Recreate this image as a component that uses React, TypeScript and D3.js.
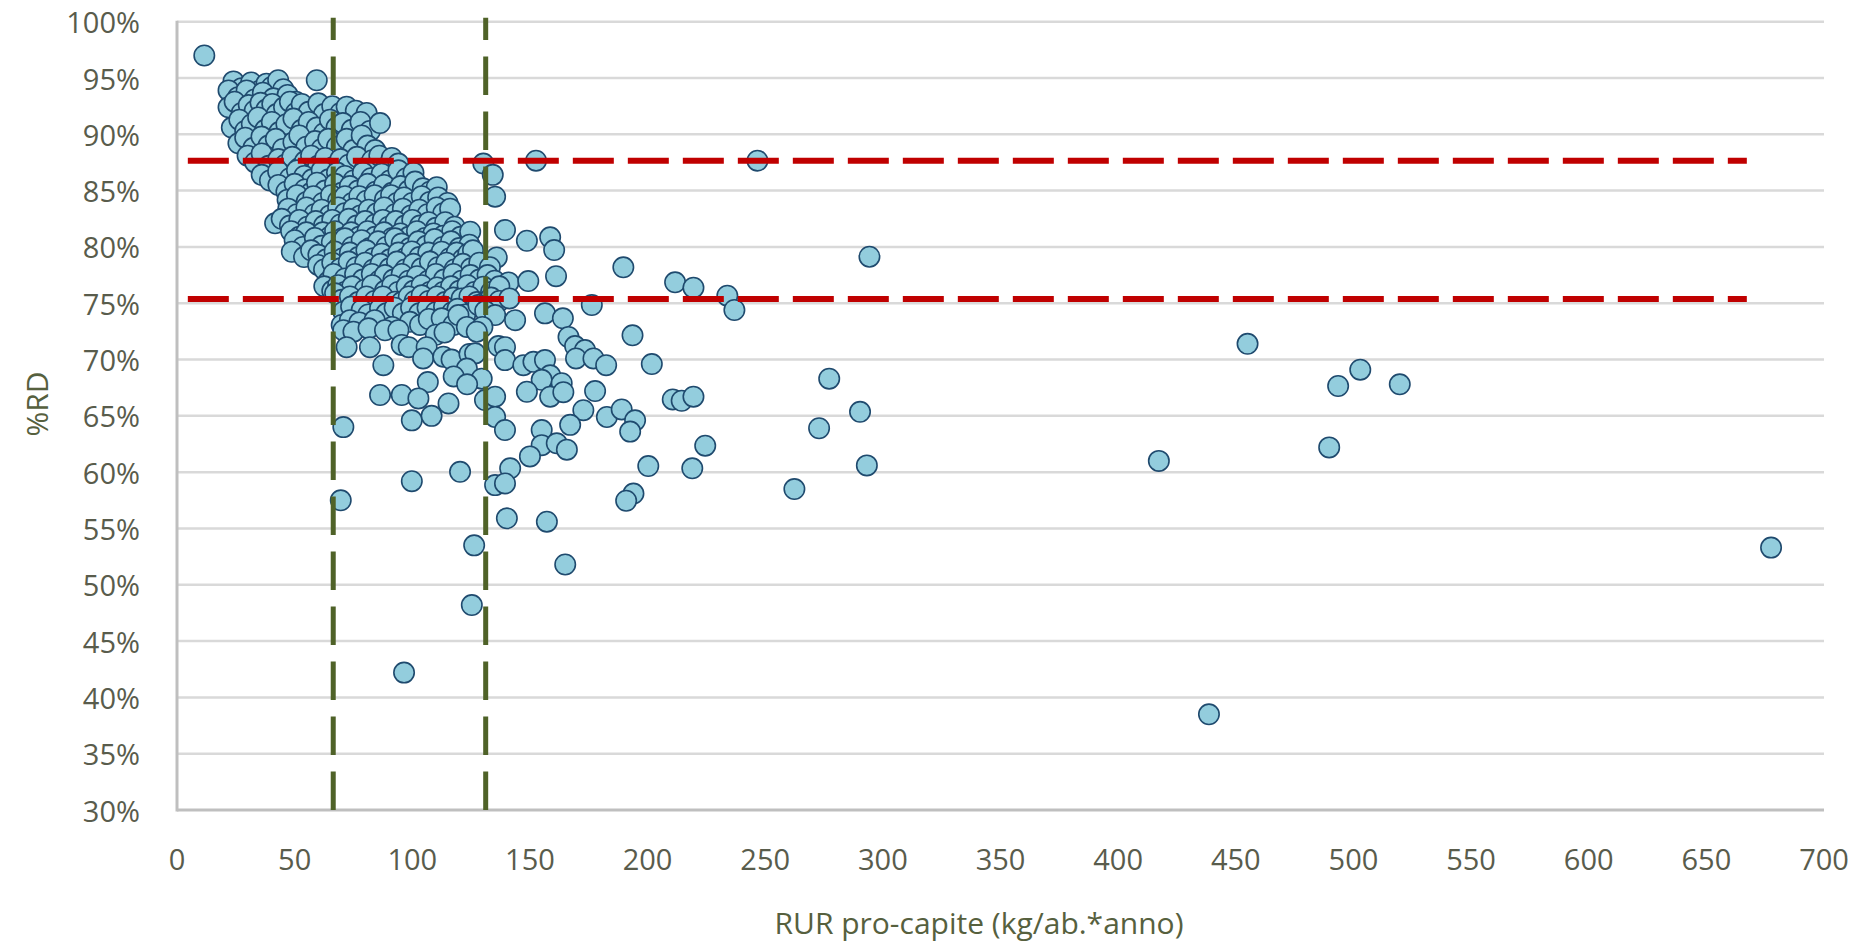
import React from 'react';
import * as d3 from 'd3';

// RUR pro-capite (kg/ab.*anno) vs %RD
const clusterUpper: [number, number][] = [
  [11.6, 97.0],
  [24, 94.7], [27.5, 94.1], [31.5, 94.6], [35.3, 93.9], [38, 94.5], [40.3, 94.2], [43, 94.8], [45.2, 94.0], [59.4, 94.8],
  [21.9, 93.9], [26, 93.3], [29.6, 93.9], [33, 93.1], [36.5, 93.7], [41, 93.2], [47, 93.5], [50.5, 92.9],
  [21.9, 92.4], [24.5, 92.9], [27.5, 91.9], [30.5, 92.6], [33, 92.1], [35.5, 92.8], [38, 92.2], [40.5, 92.7], [42.4, 91.8], [45.5, 92.4], [48, 92.9], [50.5, 91.9], [53, 92.7], [56, 92.0], [60.1, 92.75], [62.5, 91.8], [66, 92.5], [69.5, 91.9], [72.1, 92.45], [76, 92.1], [80.6, 91.9],
  [23.3, 90.6], [26.5, 91.3], [29, 90.3], [31.8, 90.9], [34.5, 91.5], [37.5, 90.4], [40.3, 91.1], [43.5, 90.2], [46.5, 90.9], [49.5, 91.4], [53, 90.4], [56, 91.1], [59.4, 90.6], [62.5, 90.1], [65, 91.3], [67.8, 90.6], [70.5, 91.0], [74.3, 90.4], [78, 91.1], [82, 90.3], [86.3, 91.0],
  [26.1, 89.2], [29, 89.7], [32.5, 88.8], [35.9, 89.8], [38.9, 89.0], [42, 89.6], [45, 88.7], [49.5, 89.3], [52, 89.9], [55, 88.9], [58.7, 89.4], [61.5, 88.7], [64.3, 89.6], [68, 88.9], [72.1, 89.6], [75, 88.6], [78.5, 89.9], [81, 89.0], [84.2, 88.6],
  [30, 88.1], [33.2, 87.5], [36, 88.3], [39, 87.2], [43.1, 87.8], [46, 87.3], [49, 88.0], [52, 87.0], [54.4, 87.6], [57, 88.1], [60, 87.2], [63, 87.9], [66.5, 87.1], [69.5, 87.8], [73, 87.3], [76.5, 88.0], [79.9, 87.0], [83, 87.7], [86, 88.1], [89, 87.1], [91.3, 87.9], [94.1, 87.4],
  [36, 86.4], [39.5, 85.9], [43, 86.7], [48, 86.1], [51, 86.8], [54.1, 86.3], [57.5, 86.0], [61.5, 86.8], [64.5, 86.0], [68, 86.6], [71.4, 86.3], [75, 85.9], [79, 86.6], [82.5, 86.1], [87, 86.5], [90.5, 85.9], [94.1, 86.8], [97.5, 86.1], [100.5, 86.6],
  [43.1, 85.5], [46.5, 84.9], [50, 85.6], [54.4, 85.1], [57, 84.8], [59.5, 85.7], [63, 85.0], [67.2, 85.6], [70, 84.8], [73.5, 85.4], [77, 85.0], [81, 85.6], [84.5, 84.9], [88, 85.5], [91.4, 84.8], [95, 85.4], [98.5, 85.0], [101.2, 85.8], [104.5, 85.2], [107.5, 84.9], [110.4, 85.3],
  [130.2, 87.4], [134.2, 86.4], [152.6, 87.66], [246.7, 87.66],
];

const clusterMiddle: [number, number][] = [
  [47, 84.2], [51, 84.6], [55.1, 84.0], [58, 84.5], [62, 83.9], [65.5, 84.6], [68.5, 84.1], [71.4, 84.5], [74.5, 83.9], [77.5, 84.5], [80.6, 84.1], [84, 84.6], [88.4, 84.2], [91, 84.6], [93.5, 83.9], [96.5, 84.4], [100, 83.9], [104, 84.5], [107.5, 84.0], [111, 84.4], [115, 83.9], [135.2, 84.46],
  [47.3, 83.4], [51, 82.9], [55, 83.5], [58.5, 82.9], [61.5, 83.3], [65, 82.8], [68.5, 83.5], [71.4, 83.0], [75, 83.4], [78, 82.8], [81.5, 83.3], [85, 83.0], [88, 83.5], [92.7, 82.9], [96, 83.4], [99.5, 82.8], [103, 83.3], [106.5, 82.9], [110.4, 83.5], [113.2, 83.0], [116.1, 83.4],
  [41.7, 82.1], [44.5, 82.5], [48, 81.9], [52, 82.4], [55.5, 81.8], [59, 82.3], [62.5, 81.9], [66, 82.4], [69.5, 82.0], [73, 82.5], [76.4, 81.9], [80, 82.3], [84.2, 82.0], [87.5, 82.4], [90, 81.8], [93, 82.3], [96.9, 81.9], [100, 82.4], [103.3, 81.9], [107, 82.2], [110.1, 81.7], [114, 82.2], [118, 81.8],
  [48.5, 81.4], [52, 80.9], [55, 81.3], [58.7, 80.8], [62, 81.3], [65, 80.9], [67.2, 81.4], [70.5, 80.8], [74, 81.3], [77.5, 80.9], [81, 81.4], [84.2, 80.9], [88, 81.3], [91.5, 80.8], [95, 81.2], [98.5, 80.9], [102, 81.4], [105.5, 80.8], [109, 81.2], [113.2, 81.0], [117, 81.4], [120.5, 80.9], [124.6, 81.35], [139.4, 81.5],
  [50, 80.6], [53.5, 80.0], [58.6, 80.8], [61.5, 80.1], [65.8, 80.4], [68.5, 79.9], [71.4, 80.76], [74.5, 80.0], [78.5, 80.6], [82, 79.9], [85.5, 80.5], [89, 80.0], [92.7, 80.76], [95.5, 80.3], [99, 79.9], [102.6, 80.5], [106, 80.1], [109.5, 80.7], [113, 80.0], [116.5, 80.5], [120, 79.9], [124.3, 80.2], [148.7, 80.55], [158.6, 80.85],
  [48.8, 79.57], [54, 79.1], [57, 79.7], [60.1, 79.3], [63.5, 78.9], [67, 79.6], [70.5, 79.0], [73.5, 79.5], [77.1, 79.1], [80.5, 79.7], [83.5, 79.0], [87, 79.4], [90.5, 78.9], [94.1, 79.5], [97, 79.0], [99.8, 79.6], [103, 79.1], [106.8, 79.5], [110, 78.9], [112.5, 79.57], [116, 79.0], [118.9, 79.5], [121.5, 78.9], [123.8, 79.4], [125.8, 79.7], [135.9, 79.07], [160.3, 79.72], [294.3, 79.13],
  [60, 78.4], [62.5, 78.0], [66, 78.6], [69.5, 78.1], [73, 78.7], [76.3, 78.2], [80, 78.6], [83.5, 78.0], [86.5, 78.5], [90.4, 78.1], [93.5, 78.7], [97, 78.0], [100.5, 78.5], [104, 78.1], [107.5, 78.7], [111, 78.2], [114.5, 78.6], [118, 78.0], [121.5, 78.5], [125, 78.1], [128.5, 78.6], [133, 78.2], [189.7, 78.19],
  [64.3, 76.9], [66.5, 77.6], [71.4, 77.2], [75.7, 77.6], [79, 77.1], [82.8, 77.6], [86, 77.0], [88.4, 77.5], [92, 77.1], [95.5, 77.6], [98.5, 77.0], [102, 77.4], [106.8, 77.0], [110, 77.6], [113.5, 77.1], [117.5, 77.6], [121, 77.0], [124.8, 77.5], [128.5, 77.1], [132, 77.5], [135, 77.0], [140.9, 76.85], [149.3, 76.97], [161.1, 77.4], [211.7, 76.86],
  [62.6, 76.5], [66, 76.1], [68.5, 76.6], [71.4, 76.0], [74.5, 76.5], [79.9, 76.2], [83, 76.6], [88.4, 76.1], [91.5, 76.6], [94, 76.0], [97.6, 76.5], [100.5, 76.1], [104, 76.6], [107.5, 76.0], [110.5, 76.4], [113.2, 76.0], [116.5, 76.5], [120, 76.1], [123.5, 76.6], [126.5, 76.0], [130.2, 76.47], [133.5, 76.0], [137, 76.5], [219.5, 76.38],
  [67.2, 75.88], [70, 75.3], [73.5, 75.6], [77, 75.1], [80.5, 75.6], [84, 75.2], [87.5, 75.6], [92.7, 75.13], [95.5, 75.1], [98.5, 75.6], [101, 75.2], [104, 75.7], [107, 75.2], [110.5, 75.6], [114, 75.1], [117.5, 75.5], [121, 75.43], [124.3, 75.6], [127.5, 75.1], [130.2, 74.99], [133.5, 75.5], [137, 75.2], [141.3, 75.43], [233.9, 75.67],
];

const clusterLower: [number, number][] = [
  [70.7, 74.25], [74, 74.7], [78.5, 74.4], [81.3, 74.0], [86.3, 74.55], [89, 74.1], [92.5, 74.6], [96, 74.1], [99.5, 74.6], [103, 74.1], [106.5, 74.6], [110, 74.2], [113.5, 74.7], [117, 74.2], [119.2, 74.5], [122.5, 74.0], [128.1, 74.84], [131, 74.3], [135.2, 73.95], [156.4, 74.1], [176.3, 74.84], [236.9, 74.4],
  [70, 73.07], [73.5, 73.5], [77.5, 73.3], [84, 73.5], [91.4, 72.9], [99, 73.35], [103.3, 73.07], [107, 73.6], [112.5, 73.66], [117.5, 73.07], [119.6, 73.95], [123.2, 72.9], [129.8, 72.9], [143.7, 73.5], [164, 73.66],
  [70.7, 72.6], [75, 72.47], [81.4, 72.77], [88.4, 72.6], [94.1, 72.6], [110, 72.2], [113.7, 72.4], [127.4, 72.47], [166.4, 72.0], [193.6, 72.15],
  [72.1, 71.1], [82, 71.1], [95.5, 71.3], [98.5, 71.1], [106.1, 71.1], [104.6, 70.1], [113.2, 70.25], [116.7, 70.0], [124.3, 70.5], [126.7, 70.55], [136.6, 71.2], [139.4, 71.1], [139.4, 69.95], [169.2, 71.2], [173.4, 70.84], [169.6, 70.1], [177, 70.1],
  [87.7, 69.5], [123.2, 69.2], [117.6, 68.5], [129.5, 68.3], [106.6, 68.0], [123.3, 67.8], [147.2, 69.5], [151.5, 69.8], [156.4, 69.95], [158.6, 68.6], [155, 68.2], [163.5, 67.9], [182.4, 69.5], [201.8, 69.6], [277.2, 68.3],
  [86.3, 66.85], [95.5, 66.85], [102.6, 66.55], [115.4, 66.1], [130.9, 66.4], [135.2, 66.7], [148.7, 67.14], [158.6, 66.7], [164.2, 67.1], [177.7, 67.2], [210.7, 66.46], [214.5, 66.34], [219.5, 66.7],
  [99.8, 64.6], [108.2, 65.0], [135.2, 64.9], [172.7, 65.5], [182.7, 64.9], [189, 65.57], [194.7, 64.6], [290.3, 65.36], [70.7, 64.0], [139.4, 63.74], [167.1, 64.2], [155, 63.74], [192.6, 63.6], [272.9, 63.9],
  [155, 62.4], [161.4, 62.56], [165.7, 62.0], [224.5, 62.35], [150, 61.4], [141.6, 60.34], [120.3, 60.03], [200.3, 60.54], [219, 60.34], [293.2, 60.6],
  [99.8, 59.2], [135.2, 58.85], [139.4, 59.0], [262.4, 58.5], [194, 58.1], [190.9, 57.46], [69.6, 57.5],
  [140.2, 55.9], [157.2, 55.6], [126.3, 53.5], [165, 51.8], [125.3, 48.2], [96.5, 42.2],
];

const farOutliers: [number, number][] = [
  [417.3, 61.0], [438.6, 38.5], [455, 71.4], [489.7, 62.2], [493.5, 67.65], [502.9, 69.1], [519.7, 67.8], [677.5, 53.3],
];

const xTicks = [0, 50, 100, 150, 200, 250, 300, 350, 400, 450, 500, 550, 600, 650, 700];
const yTicks = [30, 35, 40, 45, 50, 55, 60, 65, 70, 75, 80, 85, 90, 95, 100];

// reference thresholds
const rdThresholds = [87.65, 75.37];       // red dashed horizontal lines (%RD)
const rdLineExtent = [4.6, 667.2];         // x-range of red lines
const rurThresholds = [66.4, 131.2];       // green dashed vertical lines (kg/ab.*anno)
const rurLineExtent = [30, 100.35];        // y-range of green lines

const xTitle = 'RUR pro-capite (kg/ab.*anno)';
const yTitle = '%RD';

export default function App() {
  const W = 1863;
  const H = 944;
  const left = 177;
  const right = 1824;
  const top = 21.7;
  const bottom = 810;

  const x = d3.scaleLinear().domain([0, 700]).range([left, right]);
  const y = d3.scaleLinear().domain([30, 100]).range([bottom, top]);

  const allPoints = [...clusterUpper, ...clusterMiddle, ...clusterLower, ...farOutliers];

  const tickColor = '#595c4c';
  const titleColor = '#56603e';
  const font = "'Open Sans', 'Noto Sans', sans-serif";

  return (
    <div style={{ position: 'absolute', left: 0, top: 0, width: W, height: H, background: '#fff' }}>
      <svg width={W} height={H} style={{ display: 'block' }}>
        <rect x={0} y={0} width={W} height={H} fill="#ffffff" />
        {yTicks.map((t) => (
          <line key={'g' + t} x1={left} x2={right} y1={y(t)} y2={y(t)} stroke={t === 30 ? '#bfbfbf' : '#d9d9d9'} strokeWidth={t === 30 ? 3 : 2.5} />
        ))}
        <line x1={left} x2={left} y1={top - 1} y2={bottom + 1.5} stroke="#bfbfbf" strokeWidth={3} />

        {allPoints.map((p, i) => (
          <circle key={i} cx={x(p[0])} cy={y(p[1])} r={10.2} fill="#93cddd" stroke="#1f4a6e" strokeWidth={1.6} />
        ))}

        {rurThresholds.map((v) => (
          <line key={'gv' + v} x1={x(v)} x2={x(v)} y1={y(rurLineExtent[0])} y2={y(rurLineExtent[1])} stroke="#4f6228" strokeWidth={5} strokeDasharray="38.5,16.5" />
        ))}
        {rdThresholds.map((v) => (
          <line key={'rh' + v} x1={x(rdLineExtent[0])} x2={x(rdLineExtent[1])} y1={y(v)} y2={y(v)} stroke="#c00000" strokeWidth={6} strokeDasharray="41,14" />
        ))}

        {yTicks.map((t) => (
          <text key={'yl' + t} x={140} y={y(t)} textAnchor="end" dominantBaseline="central" fontFamily={font} fontSize={29} fill={tickColor}>
            {t + '%'}
          </text>
        ))}
        {xTicks.map((t) => (
          <text key={'xl' + t} x={x(t)} y={858} textAnchor="middle" dominantBaseline="central" fontFamily={font} fontSize={29} fill={tickColor}>
            {t}
          </text>
        ))}
        <text x={979} y={922} textAnchor="middle" dominantBaseline="central" fontFamily={font} fontSize={30} fill={titleColor}>
          {xTitle}
        </text>
        <text transform={`translate(36,404) rotate(-90)`} textAnchor="middle" dominantBaseline="central" fontFamily={font} fontSize={30} fill={titleColor}>
          {yTitle}
        </text>
      </svg>
    </div>
  );
}
